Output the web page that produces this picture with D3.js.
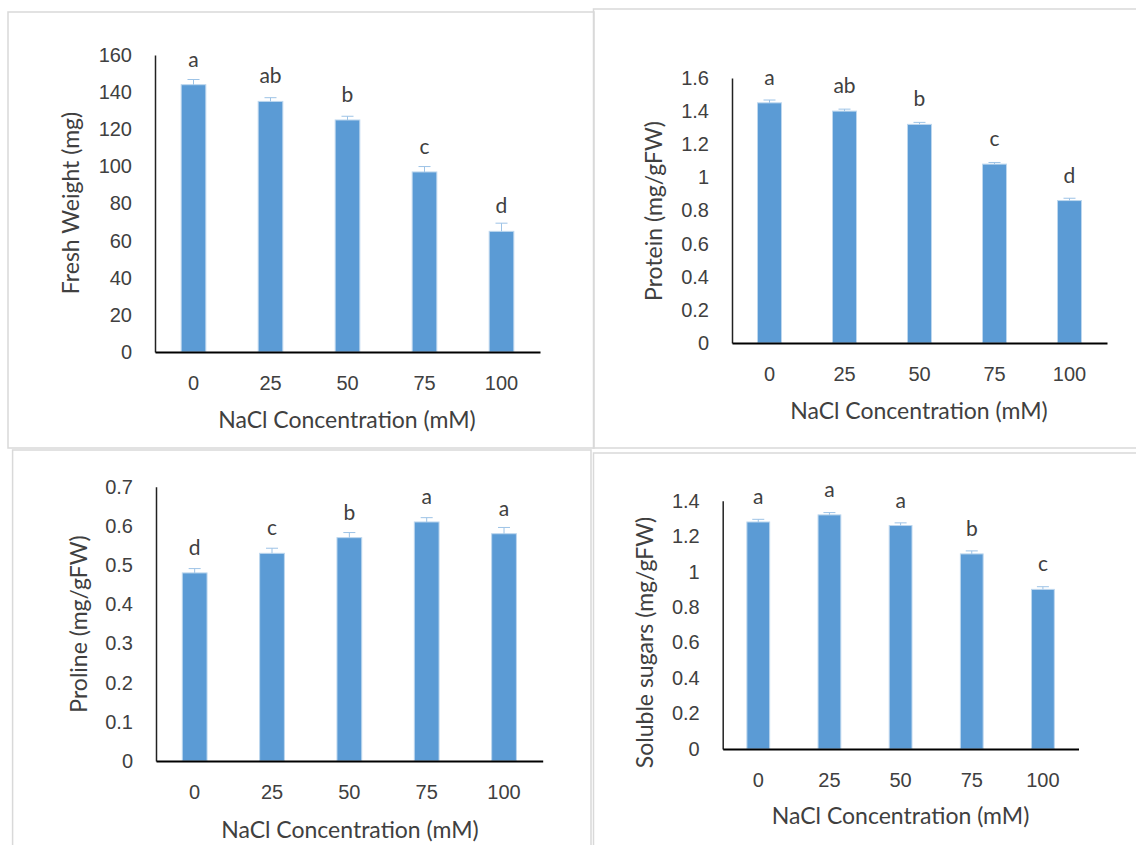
<!DOCTYPE html>
<html>
<head>
<meta charset="utf-8">
<script src="https://cdn.jsdelivr.net/npm/d3@7"></script>
<style>
	body { margin: 0; background: #fff; }
	svg { display: block; font-family: Lato, 'Open Sans', sans-serif; }
	.tick text { fill: #404040; font-size: 20px; }
	.title { fill: #404040; font-size: 23px; }
	.letter { fill: #404040; font-size: 21px; text-anchor: middle; }
	.frame { fill: none; stroke: #d9d9d9; stroke-width: 1.5; }
</style>
</head>
<body>
<div id="chart"></div>
<script>
// NaCl levels (mM)
let concentrations = ['0', '25', '50', '75', '100']

let freshWeight = [144, 135, 125, 97, 65]
let freshWeightErr = [2.8, 2, 2, 2.9, 4.4]
let freshWeightLetters = ['a', 'ab', 'b', 'c', 'd']
let freshWeightTicks = [0, 20, 40, 60, 80, 100, 120, 140, 160]

let protein = [1.45, 1.40, 1.32, 1.08, 0.86]
let proteinErr = [0.017, 0.012, 0.012, 0.01, 0.014]
let proteinLetters = ['a', 'ab', 'b', 'c', 'd']
let proteinTicks = [0, 0.2, 0.4, 0.6, 0.8, 1, 1.2, 1.4, 1.6]

let proline = [0.48, 0.53, 0.57, 0.61, 0.58]
let prolineErr = [0.011, 0.013, 0.013, 0.011, 0.016]
let prolineLetters = ['d', 'c', 'b', 'a', 'a']
let prolineTicks = [0, 0.1, 0.2, 0.3, 0.4, 0.5, 0.6, 0.7]

let sugars = [1.28, 1.32, 1.26, 1.10, 0.90]
let sugarsErr = [0.015, 0.013, 0.015, 0.017, 0.015]
let sugarsLetters = ['a', 'a', 'a', 'b', 'c']
let sugarsTicks = [0, 0.2, 0.4, 0.6, 0.8, 1, 1.2, 1.4]

let svg = d3.select('#chart')
.append('svg')
.attr('width', 1136)
.attr('height', 845)

let panels = [
	{ values: freshWeight, err: freshWeightErr, letters: freshWeightLetters, ticks: freshWeightTicks,
	  yLabel: 'Fresh Weight (mg)', left: 155, right: 540, top: 55, bottom: 352,
	  yTitle: [73, 203], xTitle: [347, 422], frame: [8, 12, 594, 448] },
	{ values: protein, err: proteinErr, letters: proteinLetters, ticks: proteinTicks,
	  yLabel: 'Protein (mg/gFW)', left: 732, right: 1107, top: 78, bottom: 343,
	  yTitle: [656, 211], xTitle: [919, 413], frame: [593.5, 9, 1140, 448] },
	{ values: proline, err: prolineErr, letters: prolineLetters, ticks: prolineTicks,
	  yLabel: 'Proline (mg/gFW)', left: 156, right: 542.7, top: 486.7, bottom: 761,
	  yTitle: [81, 624], xTitle: [350, 832], frame: [12.6, 450, 591, 850] },
	{ values: sugars, err: sugarsErr, letters: sugarsLetters, ticks: sugarsTicks,
	  yLabel: 'Soluble sugars (mg/gFW)', left: 722.7, right: 1078.5, top: 500.7, bottom: 749,
	  yTitle: [647.5, 642.5], xTitle: [900.6, 818], frame: [593.5, 453, 1140, 850] }
]

function drawPanel(p) {
	let g = svg.append('g')

	g.append('rect')
	.attr('class', 'frame')
	.attr('x', p.frame[0])
	.attr('y', p.frame[1])
	.attr('width', p.frame[2] - p.frame[0])
	.attr('height', p.frame[3] - p.frame[1])

	let x = d3.scaleBand()
	.domain(concentrations)
	.range([p.left, p.right])
	.paddingInner(0.68)
	.paddingOuter(0.34)

	let y = d3.scaleLinear()
	.domain([0, d3.max(p.ticks)])
	.range([p.bottom, p.top])

	let data = concentrations.map((c, i) => ({ c, v: p.values[i], e: p.err[i], l: p.letters[i] }))

	g.selectAll('.bar')
	.data(data)
	.join('rect')
	.attr('class', 'bar')
	.attr('x', d => x(d.c))
	.attr('y', d => y(d.v))
	.attr('width', x.bandwidth())
	.attr('height', d => y(0) - y(d.v))
	.attr('fill', '#5b9bd5')
	.attr('stroke', '#bdd7ee')
	.attr('stroke-width', 1)

	// upper error bars
	let cx = d => x(d.c) + x.bandwidth() / 2
	g.selectAll('.err')
	.data(data)
	.join('path')
	.attr('class', 'err')
	.attr('d', d => `M${cx(d)},${y(d.v)}V${y(d.v + d.e)}M${cx(d) - 6},${y(d.v + d.e)}H${cx(d) + 6}`)
	.attr('stroke', '#9dc3e6')
	.attr('stroke-width', 1)
	.attr('fill', 'none')

	g.selectAll('.letter')
	.data(data)
	.join('text')
	.attr('class', 'letter')
	.attr('x', cx)
	.attr('y', d => y(d.v) - 18)
	.text(d => d.l)

	let yAxis = g.append('g')
	.attr('transform', `translate(${p.left},0)`)
	.call(d3.axisLeft(y).tickValues(p.ticks).tickSize(0).tickPadding(23).tickFormat(d => String(+d.toFixed(1))))
	yAxis.select('.domain').attr('stroke', '#222').attr('stroke-width', 1.5)

	let xAxis = g.append('g')
	.attr('transform', `translate(0,${p.bottom})`)
	.call(d3.axisBottom(x).tickSize(0).tickPadding(24))
	xAxis.select('.domain').attr('stroke', '#000').attr('stroke-width', 2)

	g.selectAll('.tick text').attr('font-family', null).attr('font-size', null)

	g.append('text')
	.attr('class', 'title')
	.attr('x', p.xTitle[0])
	.attr('y', p.xTitle[1])
	.attr('text-anchor', 'middle')
	.attr('dominant-baseline', 'middle')
	.text('NaCl Concentration (mM)')

	g.append('text')
	.attr('class', 'title')
	.attr('transform', `translate(${p.yTitle[0]},${p.yTitle[1]}) rotate(-90)`)
	.attr('text-anchor', 'middle')
	.attr('dominant-baseline', 'middle')
	.text(p.yLabel)
}

panels.forEach(drawPanel)
</script>
</body>
</html>
